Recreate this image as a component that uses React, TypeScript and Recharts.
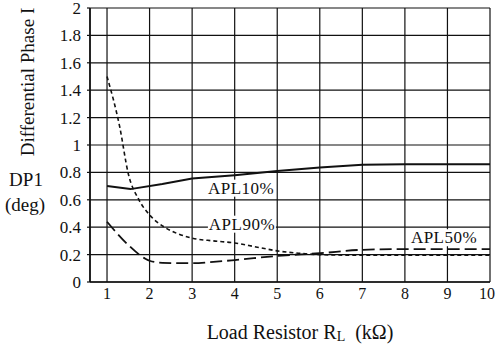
import React from 'react';
import { LineChart, Line, XAxis, YAxis, CartesianGrid, ReferenceDot } from 'recharts';

const xTicks = [1, 2, 3, 4, 5, 6, 7, 8, 9, 10];
const yTicks = [0, 0.2, 0.4, 0.6, 0.8, 1, 1.2, 1.4, 1.6, 1.8, 2];

const apl10R = [1, 1.55, 2.3, 3, 4, 5, 6, 7, 8, 9, 10];
const apl10DP = [0.7, 0.678, 0.715, 0.755, 0.78, 0.81, 0.835, 0.855, 0.86, 0.86, 0.86];

const apl90R = [1, 1.3, 1.5, 1.75, 2, 2.35, 2.65, 3, 3.5, 4, 4.5, 5, 5.5, 6, 7, 8, 9, 10];
const apl90DP = [1.5, 1.13, 0.79, 0.6, 0.49, 0.4, 0.354, 0.32, 0.3, 0.285, 0.256, 0.227, 0.21, 0.2, 0.195, 0.195, 0.195, 0.195];

const apl50R = [1, 1.5, 1.9, 2, 2.3, 3, 3.5, 4, 5, 6, 7, 8, 9, 10];
const apl50DP = [0.44, 0.27, 0.17, 0.155, 0.14, 0.137, 0.147, 0.16, 0.19, 0.21, 0.235, 0.24, 0.24, 0.24];

const seriesNames = ['APL10%', 'APL90%', 'APL50%'];
const labelR = [4.15, 4.17, 8.92];
const labelDP = [0.685, 0.422, 0.323];

const toData = (r: number[], v: number[]) => r.map((x, i) => ({ r: x, dp: v[i] }));
const apl10Data = toData(apl10R, apl10DP);
const apl90Data = toData(apl90R, apl90DP);
const apl50Data = toData(apl50R, apl50DP);

const SERIF = "'Liberation Serif', 'DejaVu Serif', serif";
const INK = '#111';

const SeriesLabel = (props: any) => {
  const { viewBox, text } = props;
  if (!viewBox) return null;
  const cx = viewBox.x + (viewBox.width || 0) / 2;
  const cy = viewBox.y + (viewBox.height || 0) / 2;
  const w = 68;
  const h = 17;
  return (
    <g>
      <rect x={cx - w / 2} y={cy - h / 2} width={w} height={h} fill="#fff" />
      <text
        x={cx}
        y={cy}
        textAnchor="middle"
        dominantBaseline="central"
        fontFamily={SERIF}
        fontSize={17}
        letterSpacing={0.5}
        fill={INK}
      >
        {text}
      </text>
    </g>
  );
};

const XTick = (props: any) => {
  const { x, y, payload } = props;
  const last = payload.value === xTicks[xTicks.length - 1];
  return (
    <text
      x={last ? x + 5 : x}
      y={y}
      dy="0.71em"
      textAnchor={last ? 'end' : 'middle'}
      fontFamily={SERIF}
      fontSize={16}
      fill={INK}
    >
      {payload.value}
    </text>
  );
};

const abs = (left: number, top: number, extra: React.CSSProperties = {}): React.CSSProperties => ({
  position: 'absolute',
  left,
  top,
  transform: 'translate(-50%, -50%)',
  whiteSpace: 'nowrap',
  fontFamily: SERIF,
  color: INK,
  lineHeight: 1,
  ...extra,
});

export default function App() {
  return (
    <div style={{ position: 'absolute', left: 0, top: 0, width: 496, height: 347, background: '#fff' }}>
      <LineChart width={496} height={347} margin={{ top: 8, right: 6, bottom: 35, left: 0 }}>
        <CartesianGrid stroke={INK} strokeWidth={1.2} />
        <XAxis
          dataKey="r"
          type="number"
          domain={[0.6, 10]}
          ticks={xTicks}
          interval={0}
          height={30}
          axisLine={{ stroke: INK, strokeWidth: 1.6 }}
          tickLine={false}
          tickSize={0}
          tickMargin={6}
          tick={<XTick />}
          allowDuplicatedCategory={false}
        />
        <YAxis
          type="number"
          domain={[0, 2]}
          ticks={yTicks}
          interval={0}
          width={90}
          axisLine={{ stroke: INK, strokeWidth: 1.6 }}
          tickLine={{ stroke: INK, strokeWidth: 1.2 }}
          tickSize={3}
          tickMargin={6}
          tick={{ fontFamily: SERIF, fontSize: 17, fill: INK }}
        />
        <Line
          data={apl10Data}
          dataKey="dp"
          type="linear"
          stroke={INK}
          strokeWidth={2}
          dot={false}
          isAnimationActive={false}
        />
        <Line
          data={apl90Data}
          dataKey="dp"
          type="monotone"
          stroke={INK}
          strokeWidth={1.6}
          strokeDasharray="4 3"
          dot={false}
          isAnimationActive={false}
        />
        <Line
          data={apl50Data}
          dataKey="dp"
          type="monotone"
          stroke={INK}
          strokeWidth={1.8}
          strokeDasharray="12 5"
          dot={false}
          isAnimationActive={false}
        />
        {seriesNames.map((name, i) => (
          <ReferenceDot
            key={name}
            x={labelR[i]}
            y={labelDP[i]}
            r={0}
            fill="none"
            stroke="none"
            label={<SeriesLabel text={name} />}
          />
        ))}
      </LineChart>
      <div style={abs(27, 82, { fontSize: 19, transform: 'translate(-50%, -50%) rotate(-90deg)' })}>
        Differential Phase I
      </div>
      <div style={abs(26, 179, { fontSize: 19 })}>DP1</div>
      <div style={abs(25, 204, { fontSize: 19 })}>(deg)</div>
      <div style={abs(300, 332, { fontSize: 20 })}>
        Load Resistor R
        <span style={{ fontSize: 14, position: 'relative', top: 2 }}>L</span>
        {'\u00a0\u00a0'}(kΩ)
      </div>
    </div>
  );
}
